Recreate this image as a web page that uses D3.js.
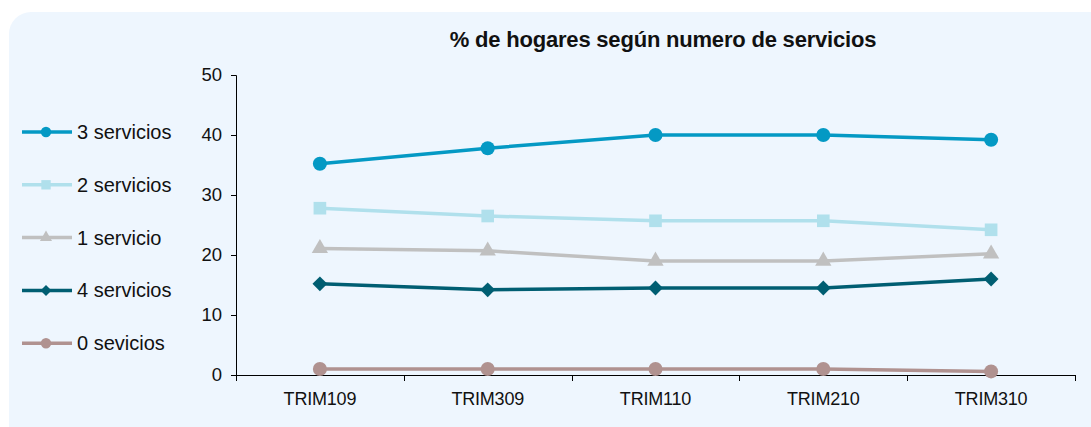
<!DOCTYPE html>
<meta charset="utf-8">
<title>Hogares por servicios</title>
<script src="https://d3js.org/d3.v7.min.js"></script>
<style>
  body { margin: 0; background: #fff; }
  text { font-family: "Liberation Sans", Arial, sans-serif; fill: #111; }
</style>
<body>
</body>
<script>
var trimestres = ["TRIM109", "TRIM309", "TRIM110", "TRIM210", "TRIM310"];
var yTicks = [0, 10, 20, 30, 40, 50];

var servicios3 = [35.2, 37.8, 40.0, 40.0, 39.2];
var servicios2 = [27.8, 26.5, 25.7, 25.7, 24.2];
var servicios1 = [21.1, 20.7, 19.0, 19.0, 20.2];
var servicios4 = [15.2, 14.2, 14.5, 14.5, 16.0];
var servicios0 = [1.0, 1.0, 1.0, 1.0, 0.6];

var seriesNames = ["3 servicios", "2 servicios", "1 servicio", "4 servicios", "0 sevicios"];
var seriesValues = [servicios3, servicios2, servicios1, servicios4, servicios0];
var seriesColors = ["#0499c4", "#b0e0ec", "#c0c0c0", "#005e72", "#b09290"];
var seriesSymbols = [d3.symbolCircle, d3.symbolSquare, d3.symbolTriangle, d3.symbolSquare, d3.symbolCircle];
var symbolSizes = [155, 160, 115, 110, 155];
var symbolRotate = [0, 0, 0, 45, 0];

var width = 1091, height = 427;
var svg = d3.select("body").append("svg")
    .attr("width", width)
    .attr("height", height);

// fondo redondeado
svg.append("rect")
    .attr("x", 9).attr("y", 12)
    .attr("width", 1120).attr("height", 450)
    .attr("rx", 22)
    .attr("fill", "#eef6fe");

var x = d3.scaleBand().domain(trimestres).range([236, 1075]);
var y = d3.scaleLinear().domain([0, 50]).range([375, 75]);

svg.append("text")
    .attr("x", 663).attr("y", 47)
    .attr("text-anchor", "middle")
    .style("font-size", "22px")
    .style("font-weight", "bold")
    .attr("letter-spacing", "-0.2px")
    .text("% de hogares según numero de servicios");

var yAxis = svg.append("g")
    .attr("transform", "translate(236,0)")
    .call(d3.axisLeft(y).tickValues(yTicks).tickSize(5).tickPadding(9));
yAxis.selectAll("text").style("font-size", "18.5px");

var xAxis = svg.append("g")
    .attr("transform", "translate(0,375)")
    .call(d3.axisBottom(x).tickSize(0).tickPadding(17));
xAxis.selectAll("text").style("font-size", "18px").attr("letter-spacing", "-0.2px");
xAxis.select(".domain").remove();
svg.append("line")
    .attr("x1", 236).attr("x2", 1075).attr("y1", 375.5).attr("y2", 375.5)
    .attr("stroke", "#000");
svg.selectAll(".xtick")
    .data(d3.range(trimestres.length + 1))
    .enter().append("line")
    .attr("x1", function (i) { return Math.round(236 + i * x.step()) + 0.5; })
    .attr("x2", function (i) { return Math.round(236 + i * x.step()) + 0.5; })
    .attr("y1", 375).attr("y2", 381)
    .attr("stroke", "#000");
svg.selectAll(".domain, .tick line").attr("stroke", "#000");

var line = d3.line()
    .x(function (d, i) { return x(trimestres[i]) + x.bandwidth() / 2; })
    .y(function (d) { return y(d); });

seriesValues.forEach(function (vals, s) {
  var g = svg.append("g");
  g.append("path")
      .datum(vals)
      .attr("d", line)
      .attr("fill", "none")
      .attr("stroke", seriesColors[s])
      .attr("stroke-width", 3.5);
  g.selectAll("path.mark")
      .data(vals)
      .enter().append("path")
      .attr("class", "mark")
      .attr("d", d3.symbol().type(seriesSymbols[s]).size(symbolSizes[s]))
      .attr("transform", function (d, i) {
        return "translate(" + (x(trimestres[i]) + x.bandwidth() / 2) + "," + y(d) + ") rotate(" + symbolRotate[s] + ")";
      })
      .attr("fill", seriesColors[s]);
});

// leyenda
var legend = svg.selectAll(".legend")
    .data(seriesNames)
    .enter().append("g")
    .attr("transform", function (d, i) { return "translate(0," + (132 + i * 52.8) + ")"; });
legend.append("line")
    .attr("x1", 22).attr("x2", 72)
    .attr("stroke", function (d, i) { return seriesColors[i]; })
    .attr("stroke-width", 3.5);
legend.append("path")
    .attr("d", function (d, i) { return d3.symbol().type(seriesSymbols[i]).size(symbolSizes[i] * 0.55)(); })
    .attr("transform", function (d, i) { return "translate(46,0) rotate(" + symbolRotate[i] + ")"; })
    .attr("fill", function (d, i) { return seriesColors[i]; });
legend.append("text")
    .attr("x", 77).attr("dy", "0.35em")
    .style("font-size", "20px")
    .text(function (d) { return d; });
</script>
